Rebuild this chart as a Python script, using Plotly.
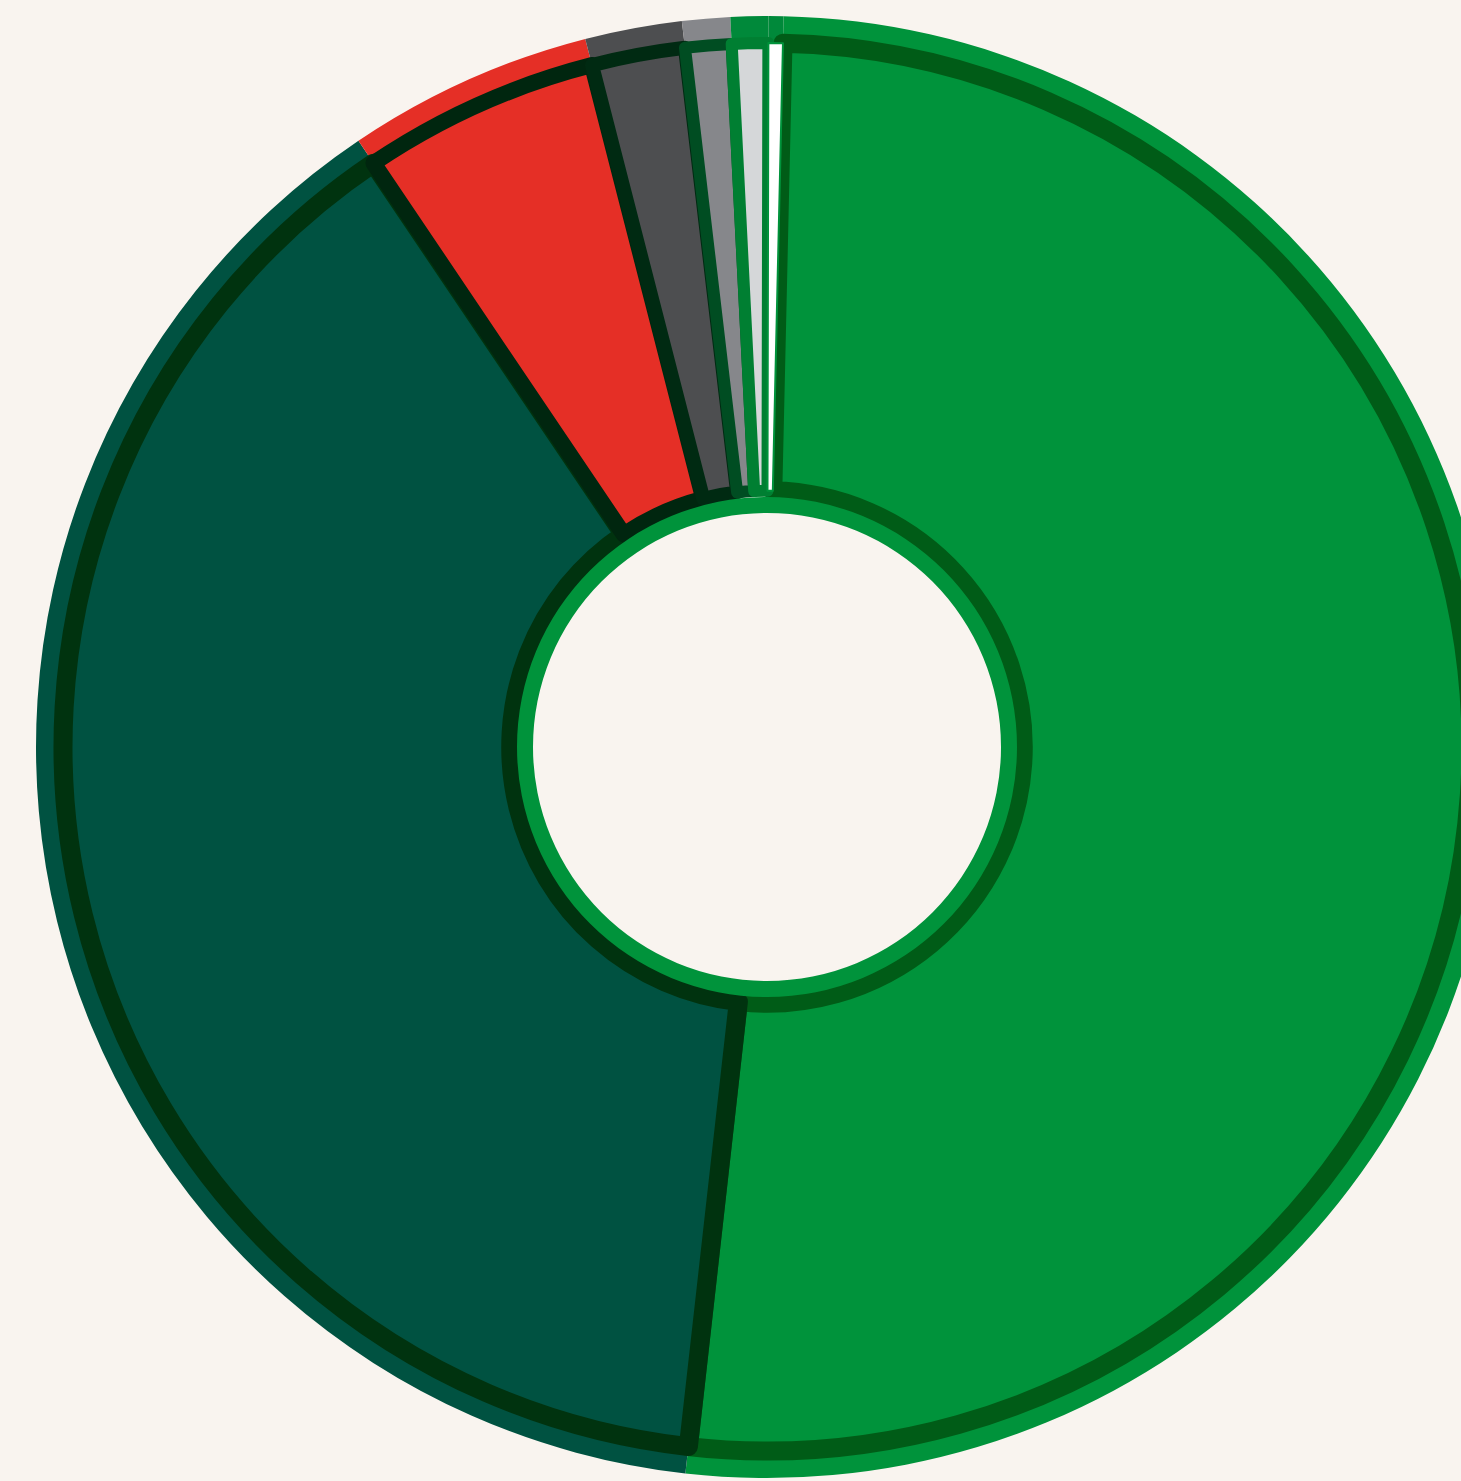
import plotly.graph_objects as go

labels = ["Green", "Dark green", "Red", "Dark grey", "Grey", "Light grey", "Other"]
values = [51.42, 38.78, 5.44, 2.14, 1.06, 0.83, 0.33]
fill_colors = ["#00933B", "#005241", "#E52F26", "#4D4E50", "#86878B", "#D5D7D9", "#FFFFFF"]
halo_colors = ["#00933B", "#005241", "#E52F26", "#4D4E50", "#86878B", "#00893A", "#00893A"]
line_colors = ["#005C17", "#00330F", "#00260F", "#002A12", "#004D22", "#007F32", "#00933B"]
line_widths = [19, 19, 16, 14, 12, 12, 2]

W, H = 1540, 1481
CX, CY = 767, 747
START = 1.3  # degrees clockwise from 12 o'clock


def domain(r):
    xc = CX / W
    yc = (H - CY) / H
    return dict(x=[xc - r / W, xc + r / W], y=[yc - r / H, yc + r / H])


fig = go.Figure()

# sketchy outer halo of each slice
fig.add_trace(go.Pie(
    labels=labels, values=values, sort=False, direction="clockwise", rotation=START,
    hole=0.5, textinfo="none", hoverinfo="skip",
    marker=dict(colors=halo_colors, line=dict(width=0)),
    domain=domain(731), showlegend=False,
))

# main slices
fig.add_trace(go.Pie(
    labels=labels, values=values, sort=False, direction="clockwise", rotation=START,
    hole=0.364, textinfo="none", hoverinfo="label+percent",
    marker=dict(colors=fill_colors, line=dict(color=line_colors, width=line_widths)),
    domain=domain(704), showlegend=False,
))

# green band around the hole
fig.add_trace(go.Pie(
    labels=["ring"], values=[1], sort=False, hole=234 / 250,
    textinfo="none", hoverinfo="skip",
    marker=dict(colors=["#00933B"], line=dict(width=0)),
    domain=domain(250), showlegend=False,
))

fig.update_layout(
    width=W, height=H,
    margin=dict(l=0, r=0, t=0, b=0),
    paper_bgcolor="#F9F4EF",
    plot_bgcolor="#F9F4EF",
)

fig.write_html("out.html", post_script="document.body.style.margin='0';document.body.style.overflow='hidden';document.documentElement.style.overflow='hidden';")
